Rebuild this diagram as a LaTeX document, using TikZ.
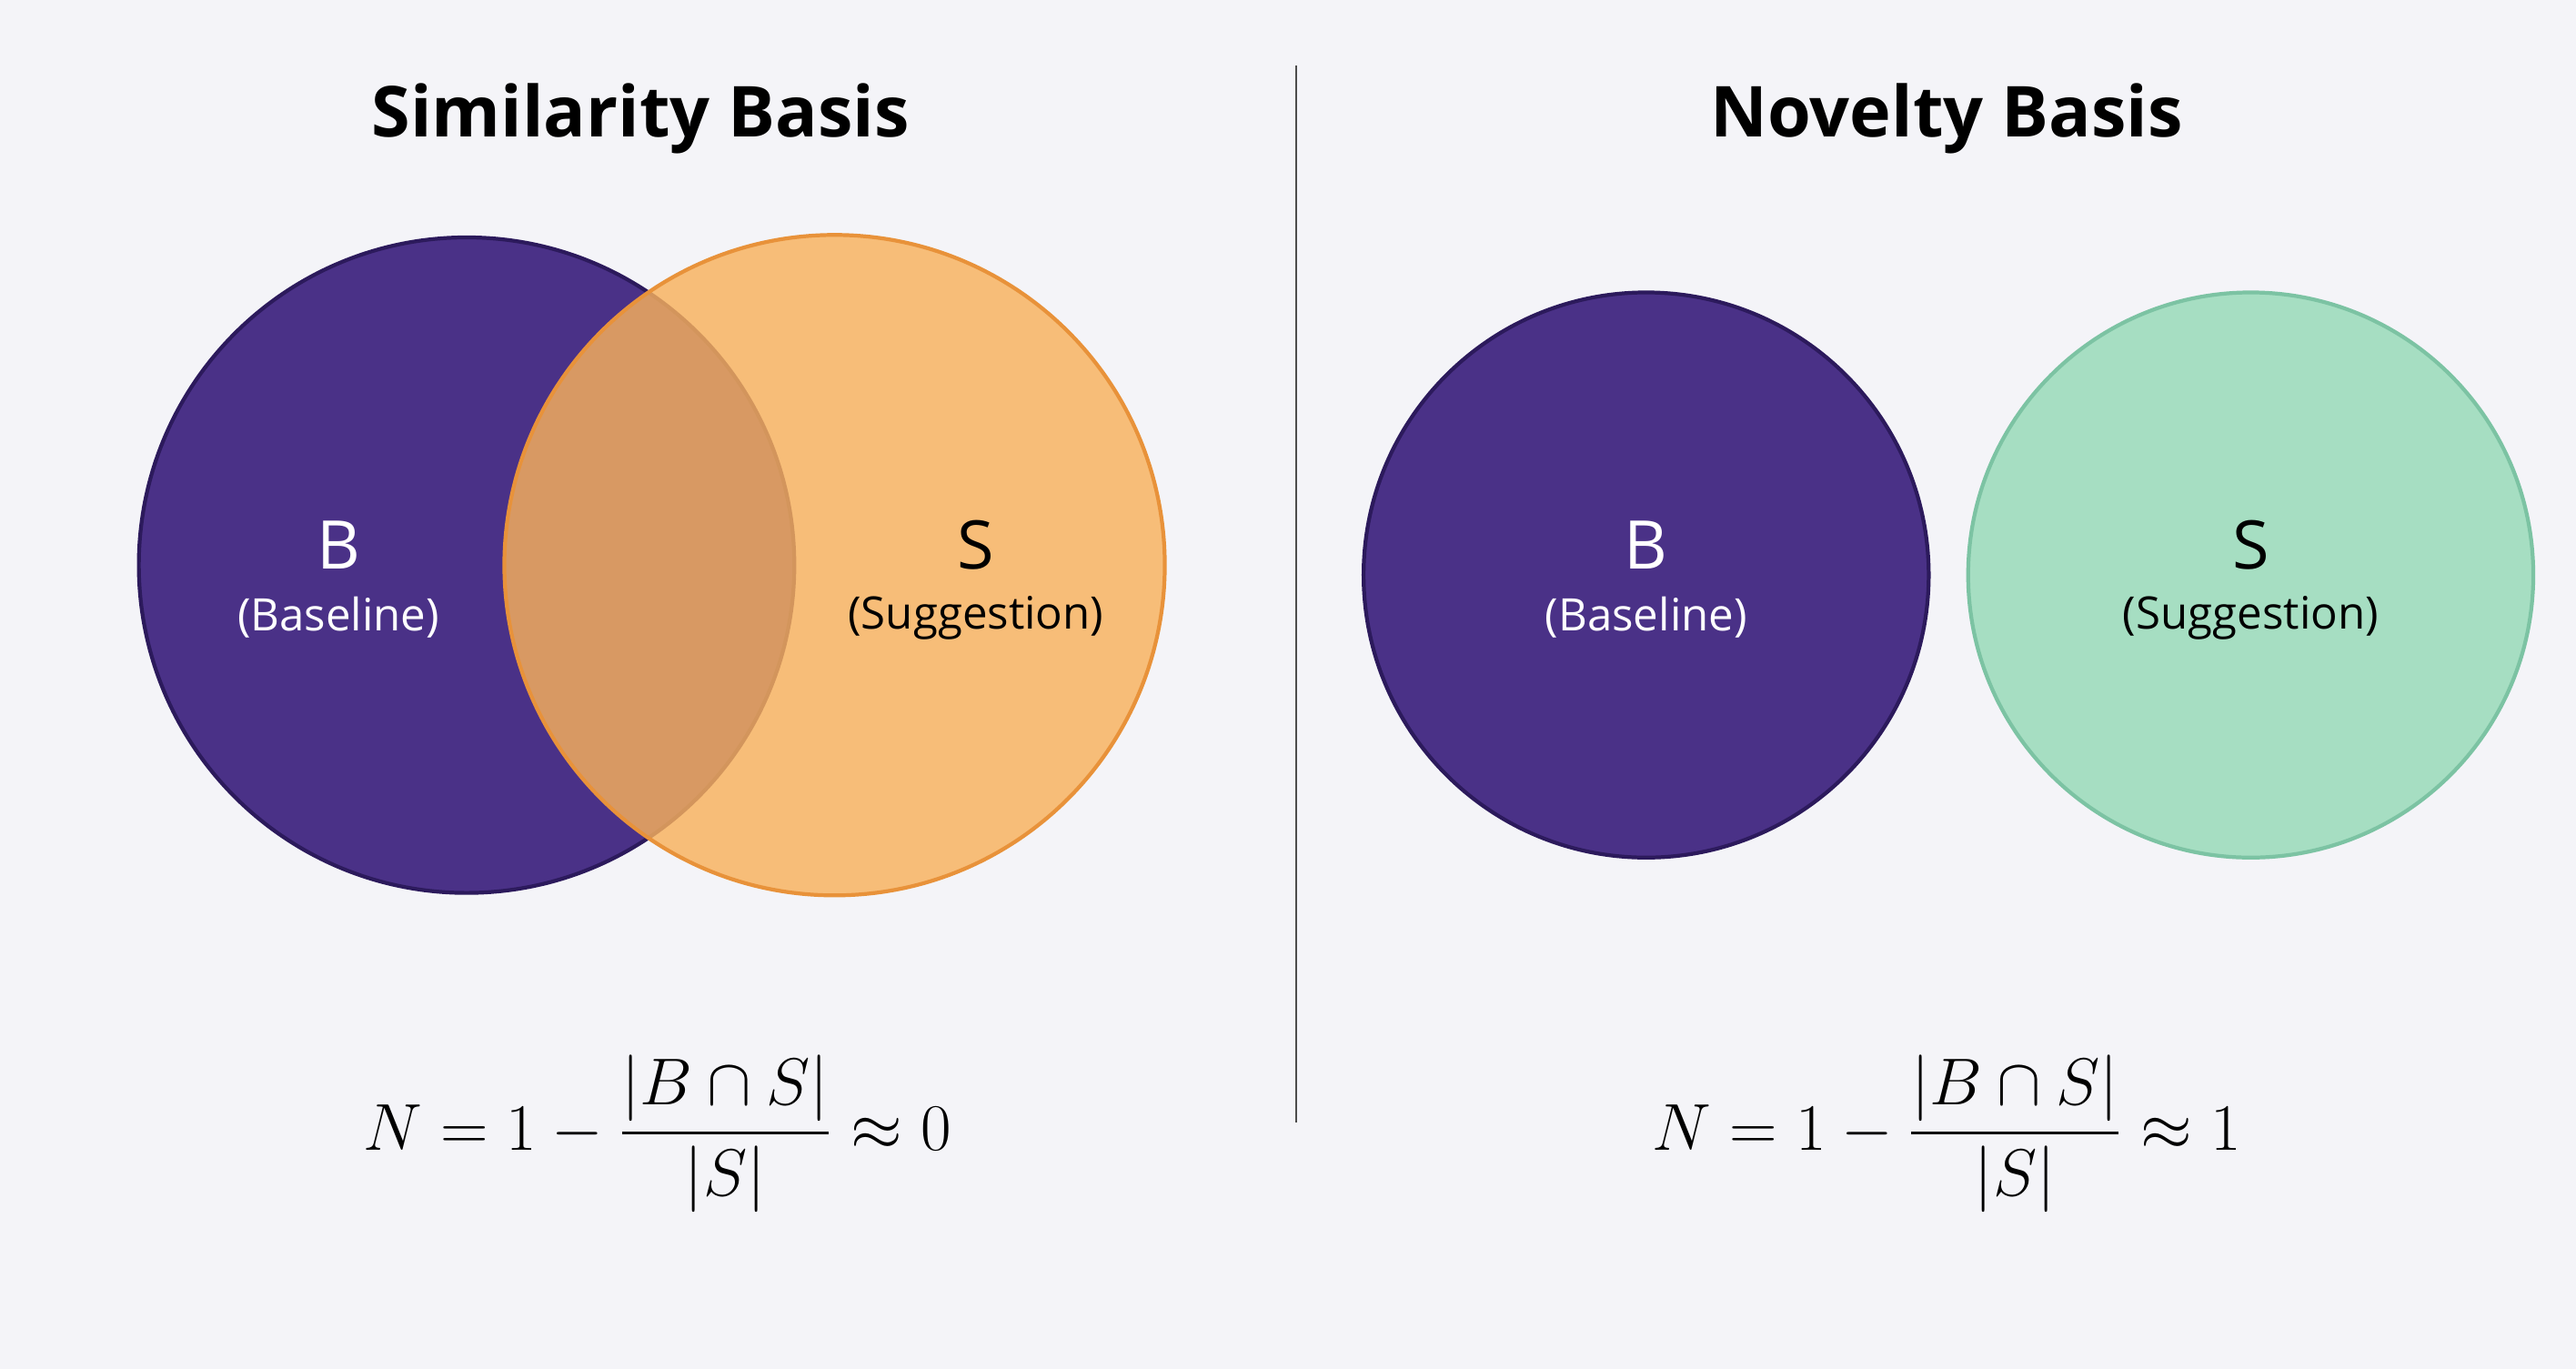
\documentclass[tikz,border=0pt]{standalone}
\usepackage{amsmath,amssymb}
\usepackage{fontspec}
\setmainfont{Open Sans}
\usepackage{tikz}
\usetikzlibrary{positioning}

\definecolor{bgcol}{HTML}{F4F4F8}
\definecolor{basefill}{HTML}{4A3187}
\definecolor{basedraw}{HTML}{2C1A5C}
\definecolor{suggfill}{HTML}{F8B15C}
\definecolor{suggdraw}{HTML}{E8923A}
\definecolor{novfill}{HTML}{A6DEC2}
\definecolor{novdraw}{HTML}{7CC3A3}

\begin{document}
\begin{tikzpicture}[x=0.01806cm, y=-0.01806cm]
\tikzstyle{title}=[font=\bfseries\fontsize{22}{26}\selectfont, text=black]
\tikzstyle{letter}=[font=\fontsize{21}{24}\selectfont]
\tikzstyle{sub}=[font=\fontsize{14}{17}\selectfont]
\tikzstyle{formula}=[font=\fontsize{22}{26}\selectfont]
\tikzstyle{baseset}=[circle, fill=basefill, draw=basedraw, line width=1.2pt]

\fill [bgcol] (0,0) rectangle (1568,833);
\useasboundingbox (0,0) rectangle (1568,833);

% similarity side
\node (simtitle) [title] at (390,72) {Similarity Basis};
\node (simB) [baseset, minimum size=399*0.01806cm] at (284,344) {};
\node (simS) [circle, fill=suggfill, fill opacity=0.82, draw=suggdraw, line width=1.2pt, minimum size=402*0.01806cm] at (508,344) {};
\node (simBl) [letter, text=white] at (206,332) {B};
\node (simBs) [sub, text=white] at (206,376) {(Baseline)};
\node (simSl) [letter] at (594,332) {S};
\node (simSs) [sub] at (594,376) {(Suggestion)};
\node (simN) [formula] at (400,690) {$N = 1 - \dfrac{|B\cap S|}{|S|} \approx 0$};

% divider
\coordinate (divtop) at (789,40);
\coordinate (divbot) at (789,683);
\draw [black!70, line width=0.8pt] (divtop) -- (divbot);

% novelty side
\node (novtitle) [title] at (1185,72) {Novelty Basis};
\node (novB) [baseset, minimum size=344*0.01806cm] at (1002,350) {};
\node (novS) [circle, fill=novfill, draw=novdraw, line width=1.2pt, minimum size=344*0.01806cm] at (1370,350) {};
\node (novBl) [letter, text=white] at (1002,332) {B};
\node (novBs) [sub, text=white] at (1002,376) {(Baseline)};
\node (novSl) [letter] at (1370,332) {S};
\node (novSs) [sub] at (1370,376) {(Suggestion)};
\node (novN) [formula] at (1185,690) {$N = 1 - \dfrac{|B\cap S|}{|S|} \approx 1$};

\end{tikzpicture}
\end{document}
